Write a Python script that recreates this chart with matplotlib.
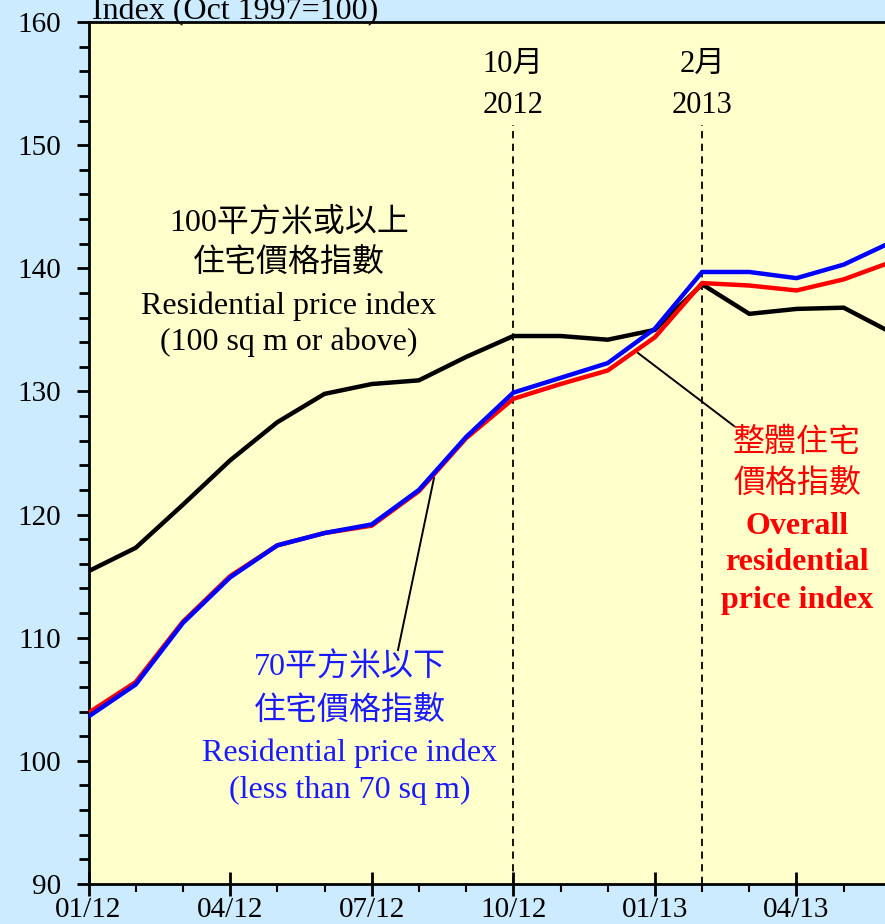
import matplotlib
matplotlib.use("Agg")
import matplotlib.pyplot as plt
from matplotlib.ticker import MultipleLocator, FixedLocator

# ---------------- data ----------------
months = list(range(18))  # 0 = Jan 2012 ... 17 = Jun 2013
large_100 = [115.4, 117.3, 120.8, 124.4, 127.5, 129.8, 130.6, 130.9, 132.8, 134.5,
             134.5, 134.2, 135.0, 138.7, 136.3, 136.7, 136.8, 134.8]
small_70 = [103.6, 106.2, 111.2, 114.9, 117.5, 118.5, 119.2, 122.0, 126.3, 129.9,
            131.1, 132.3, 135.1, 139.7, 139.7, 139.2, 140.3, 142.1]
overall = [103.9, 106.4, 111.3, 115.0, 117.5, 118.5, 119.1, 121.9, 126.2, 129.4,
           130.6, 131.7, 134.4, 138.8, 138.6, 138.2, 139.1, 140.5]
tick_months = [0, 3, 6, 9, 12, 15]
tick_labels = ["01/12", "04/12", "07/12", "10/12", "01/13", "04/13"]
event_months = [9, 13]
event_labels = ["10月\n2012", "2月\n2013"]

# ---------------- layout ----------------
W, H = 885, 924
fig = plt.figure(figsize=(W / 100, H / 100), dpi=100)
fig.patch.set_facecolor("#CCEBFF")

x0_px, month_px = 88.5, 47.2
top_px, bot_px = 22, 884
xmax = 18
ax = fig.add_axes([x0_px / W, 1 - bot_px / H, xmax * month_px / W, (bot_px - top_px) / H])
ax.set_facecolor("#FFFFCC")
ax.set_xlim(0, xmax)
ax.set_ylim(90, 160)

serif = ["Liberation Serif", "Noto Sans CJK TC"]


def px(x, y):
    """pixel position in reference image -> data coords"""
    return (x - x0_px) / month_px, 160 - (y - top_px) * 70 / (bot_px - top_px)


for s in ["left", "bottom", "top"]:
    ax.spines[s].set_linewidth(2)
    ax.spines[s].set_color("black")
ax.spines["right"].set_visible(False)

ax.yaxis.set_major_locator(MultipleLocator(10))
ax.yaxis.set_minor_locator(MultipleLocator(2))
ax.xaxis.set_major_locator(FixedLocator(tick_months))
ax.xaxis.set_minor_locator(MultipleLocator(1))
ax.set_xticklabels(tick_labels)
ax.tick_params(axis="y", which="major", direction="out", length=9, width=2, labelsize=21, pad=11)
ax.tick_params(axis="y", which="minor", direction="out", length=7, width=2)
ax.tick_params(axis="x", which="major", direction="inout", length=17, width=2, labelsize=21, pad=1)
ax.tick_params(axis="x", which="minor", direction="out", length=6, width=1.5)
for lab in ax.get_xticklabels() + ax.get_yticklabels():
    lab.set_family(serif)

# dashed event lines (start below their labels)
line_top = px(0, 125)[1]
for m, lab in zip(event_months, event_labels):
    ax.vlines(m, 90, line_top, color="black", lw=1.3, linestyles=[(0, (4, 3))], zorder=1)
    for i, part in enumerate(lab.split("\n")):
        ax.text(m, px(0, 64 + 41 * i)[1], part, ha="center", va="center",
                fontsize=22, family=serif, color="black")

# series
ax.plot(months, large_100, color="black", lw=3.2, zorder=3, solid_joinstyle="miter")
ax.plot(months, overall, color="#FF0000", lw=3.2, zorder=4, solid_joinstyle="miter")
ax.plot(months, small_70, color="#0000FF", lw=3.2, zorder=5, solid_joinstyle="miter")

# y title
fig.text(92 / W, 1 - 19 / H, "Index (Oct 1997=100)", ha="left", va="baseline",
         fontsize=23, family=serif)

# annotations
black_lines = [("100平方米或以上", 222), ("住宅價格指數", 264),
               ("Residential price index", 306), ("(100 sq m or above)", 342)]
for t, y in black_lines:
    ax.text(*px(289, y), t, ha="center", va="center", fontsize=23, family=serif, color="black")

blue_lines = [("70平方米以下", 668), ("住宅價格指數", 712),
              ("Residential price index", 753), ("(less than 70 sq m)", 790)]
for t, y in blue_lines:
    ax.text(*px(350, y), t, ha="center", va="center", fontsize=23, family=serif, color="#1A1AFF")

red_lines = [("整體住宅", 442, "normal"), ("價格指數", 485, "normal"),
             ("Overall", 526, "bold"), ("residential", 562, "bold"), ("price index", 600, "bold")]
for t, y, w in red_lines:
    ax.text(*px(797, y), t, ha="center", va="center", fontsize=23, family=serif,
            color="#FF0000", fontweight=w)

# pointer lines
for (xa, ya), (xb, yb) in [((398, 650), (434, 478)), ((638, 353), (734, 426))]:
    pa, pb = px(xa, ya), px(xb, yb)
    ax.plot([pa[0], pb[0]], [pa[1], pb[1]], color="black", lw=1.4, zorder=2)

fig.savefig("out.png", dpi=100, facecolor=fig.get_facecolor())
